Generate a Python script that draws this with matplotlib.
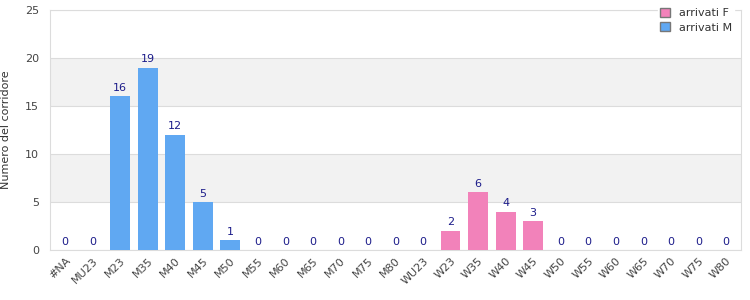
import matplotlib
matplotlib.use("Agg")
import matplotlib.pyplot as plt
import numpy as np

categories = ["#NA", "MU23", "M23", "M35", "M40", "M45", "M50", "M55", "M60", "M65",
              "M70", "M75", "M80", "WU23", "W23", "W35", "W40", "W45", "W50", "W55",
              "W60", "W65", "W70", "W75", "W80"]
arrivati_M = [0, 0, 16, 19, 12, 5, 1, 0, 0, 0, 0, 0, 0, 0, 0, 0, 0, 0, 0, 0, 0, 0, 0, 0, 0]
arrivati_F = [0, 0, 0, 0, 0, 0, 0, 0, 0, 0, 0, 0, 0, 0, 2, 6, 4, 3, 0, 0, 0, 0, 0, 0, 0]
y_ticks = [0, 5, 10, 15, 20, 25]

plt.rcParams['font.family'] = ['DejaVu Sans']
fig = plt.figure(figsize=(7.5, 3), dpi=100)
ax = fig.add_axes([50/750, 1-250/300, 691/750, 240/300])

x = np.arange(len(categories))
m = np.array(arrivati_M)
f = np.array(arrivati_F)
blue = "#60a8f2"
pink = "#f282ba"
ax.bar(x, m, width=0.72, color=blue, zorder=3, label="arrivati M")
ax.bar(x, f, width=0.72, bottom=m, color=pink, zorder=3, label="arrivati F")

tot = m + f
for xi, t in zip(x, tot):
    ax.text(xi, t + 0.35, str(int(t)), ha="center", va="bottom", fontsize=8, color="#1c1c8a", zorder=4)

ax.set_xlim(-0.55, len(categories) - 0.45)
ax.set_ylim(0, 25)
ax.set_yticks(y_ticks)
# alternating bands
for i, lo in enumerate(y_ticks[:-1]):
    if i % 2 == 1:
        ax.axhspan(lo, y_ticks[i + 1], color="#f2f2f2", zorder=0, lw=0)
for yt in y_ticks:
    ax.axhline(yt, color="#dcdcdc", lw=0.8, zorder=1)

ax.set_xticks(x)
ax.set_xticklabels(categories, rotation=45, ha="right", rotation_mode="anchor", fontsize=8, color="#444444")
ax.tick_params(axis="y", labelsize=8, colors="#444444", length=0, pad=8)
ax.tick_params(axis="x", length=0, pad=4)
for s in ax.spines.values():
    s.set_color("#dcdcdc")
    s.set_linewidth(0.8)
ax.set_ylabel("Numero del corridore", fontsize=8, color="#333333", labelpad=10)

handles, labels = ax.get_legend_handles_labels()
from matplotlib.patches import Patch
h = [Patch(facecolor=pink, edgecolor="#777777", label="arrivati F"),
     Patch(facecolor=blue, edgecolor="#777777", label="arrivati M")]
leg = fig.legend(handles=h, loc="upper right", bbox_to_anchor=(740/750, 1.0), fontsize=8,
                 frameon=True, fancybox=False, edgecolor="white", framealpha=1,
                 handlelength=0.9, handleheight=0.9, borderpad=0.2, labelspacing=0.35, handletextpad=0.8)
for t in leg.get_texts():
    t.set_color("#333333")

fig.savefig("out.png", dpi=100)
